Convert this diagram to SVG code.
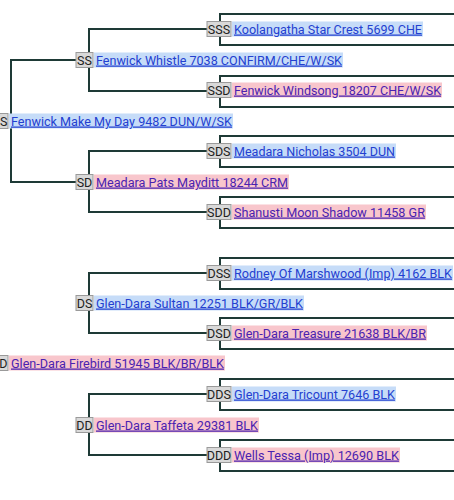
<svg xmlns="http://www.w3.org/2000/svg" width="454" height="500" viewBox="0 0 454 500">
<style>
.ln{fill:none;stroke:#1e3a36;stroke-width:2}
.bx{fill:#d9d9d9;stroke:#9a9a9a;stroke-width:1}
.bt{font-family:Roboto,"Liberation Sans",sans-serif;font-size:12.5px;fill:#222}
.nm{font-family:Roboto,"Liberation Sans",sans-serif;font-size:12.5px;text-decoration:underline}
.s .bg{fill:#c6dcf8}
.d .bg{fill:#f8c6cc}
.s .nm{fill:#2340d0}
.d .nm{fill:#4a22b0}
</style>
<rect width="454" height="500" fill="#fff"/>
<g id="connectors">
<path class="ln" d="M76,60H11V182H76"/>
<path class="ln" d="M207,29H89V91H207"/>
<path class="ln" d="M207,151H89V212H207"/>
<path class="ln" d="M207,273H89V333H207"/>
<path class="ln" d="M207,394H89V455H207"/>
<path class="ln" d="M454,14H220V45H454"/>
<path class="ln" d="M454,76H220V107H454"/>
<path class="ln" d="M454,136H220V167H454"/>
<path class="ln" d="M454,197H220V228H454"/>
<path class="ln" d="M454,258H220V289H454"/>
<path class="ln" d="M454,318H220V349H454"/>
<path class="ln" d="M454,379H220V410H454"/>
<path class="ln" d="M454,440H220V471H454"/>
</g>
<g id="S" class="s"><rect class="bx" x="-8" y="113.5" width="16" height="15"/><text class="bt" x="7.5" y="125.5" text-anchor="end">S</text><rect class="bg" x="9" y="113.5" width="224" height="15"/><text class="nm" x="11" y="125.5" textLength="221" lengthAdjust="spacingAndGlyphs">Fenwick Make My Day 9482 DUN/W/SK</text></g>
<g id="SS" class="s"><rect class="bx" x="76" y="52.5" width="17" height="15"/><text class="bt" x="84.5" y="64.5" text-anchor="middle">SS</text><rect class="bg" x="94" y="52.5" width="249" height="15"/><text class="nm" x="96" y="64.5" textLength="246" lengthAdjust="spacingAndGlyphs">Fenwick Whistle 7038 CONFIRM/CHE/W/SK</text></g>
<g id="SSS" class="s"><rect class="bx" x="207" y="21.5" width="24" height="15"/><text class="bt" x="219" y="33.5" text-anchor="middle">SSS</text><rect class="bg" x="232" y="21.5" width="191" height="15"/><text class="nm" x="234" y="33.5" textLength="188" lengthAdjust="spacingAndGlyphs">Koolangatha Star Crest 5699 CHE</text></g>
<g id="SSD" class="d"><rect class="bx" x="207" y="82.5" width="24" height="15"/><text class="bt" x="219" y="94.5" text-anchor="middle">SSD</text><rect class="bg" x="232" y="82.5" width="210" height="15"/><text class="nm" x="234" y="94.5" textLength="207" lengthAdjust="spacingAndGlyphs">Fenwick Windsong 18207 CHE/W/SK</text></g>
<g id="SD" class="d"><rect class="bx" x="76" y="174.5" width="17" height="15"/><text class="bt" x="84.5" y="186.5" text-anchor="middle">SD</text><rect class="bg" x="94" y="174.5" width="195" height="15"/><text class="nm" x="96" y="186.5" textLength="192" lengthAdjust="spacingAndGlyphs">Meadara Pats Mayditt 18244 CRM</text></g>
<g id="SDS" class="s"><rect class="bx" x="207" y="143.5" width="24" height="15"/><text class="bt" x="219" y="155.5" text-anchor="middle">SDS</text><rect class="bg" x="232" y="143.5" width="164" height="15"/><text class="nm" x="234" y="155.5" textLength="161" lengthAdjust="spacingAndGlyphs">Meadara Nicholas 3504 DUN</text></g>
<g id="SDD" class="d"><rect class="bx" x="207" y="204.5" width="24" height="15"/><text class="bt" x="219" y="216.5" text-anchor="middle">SDD</text><rect class="bg" x="232" y="204.5" width="194" height="15"/><text class="nm" x="234" y="216.5" textLength="191" lengthAdjust="spacingAndGlyphs">Shanusti Moon Shadow 11458 GR</text></g>
<g id="D" class="d"><rect class="bx" x="-8" y="355.5" width="16" height="15"/><text class="bt" x="7.5" y="367.5" text-anchor="end">D</text><rect class="bg" x="9" y="355.5" width="216" height="15"/><text class="nm" x="11" y="367.5" textLength="213" lengthAdjust="spacingAndGlyphs">Glen-Dara Firebird 51945 BLK/BR/BLK</text></g>
<g id="DS" class="s"><rect class="bx" x="76" y="295.5" width="17" height="15"/><text class="bt" x="84.5" y="307.5" text-anchor="middle">DS</text><rect class="bg" x="94" y="295.5" width="210" height="15"/><text class="nm" x="96" y="307.5" textLength="207" lengthAdjust="spacingAndGlyphs">Glen-Dara Sultan 12251 BLK/GR/BLK</text></g>
<g id="DSS" class="s"><rect class="bx" x="207" y="265.5" width="24" height="15"/><text class="bt" x="219" y="277.5" text-anchor="middle">DSS</text><rect class="bg" x="232" y="265.5" width="221" height="15"/><text class="nm" x="234" y="277.5" textLength="218" lengthAdjust="spacingAndGlyphs">Rodney Of Marshwood (Imp) 4162 BLK</text></g>
<g id="DSD" class="d"><rect class="bx" x="207" y="325.5" width="24" height="15"/><text class="bt" x="219" y="337.5" text-anchor="middle">DSD</text><rect class="bg" x="232" y="325.5" width="195" height="15"/><text class="nm" x="234" y="337.5" textLength="192" lengthAdjust="spacingAndGlyphs">Glen-Dara Treasure 21638 BLK/BR</text></g>
<g id="DD" class="d"><rect class="bx" x="76" y="417.5" width="17" height="15"/><text class="bt" x="84.5" y="429.5" text-anchor="middle">DD</text><rect class="bg" x="94" y="417.5" width="165" height="15"/><text class="nm" x="96" y="429.5" textLength="162" lengthAdjust="spacingAndGlyphs">Glen-Dara Taffeta 29381 BLK</text></g>
<g id="DDS" class="s"><rect class="bx" x="207" y="386.5" width="24" height="15"/><text class="bt" x="219" y="398.5" text-anchor="middle">DDS</text><rect class="bg" x="232" y="386.5" width="164" height="15"/><text class="nm" x="234" y="398.5" textLength="161" lengthAdjust="spacingAndGlyphs">Glen-Dara Tricount 7646 BLK</text></g>
<g id="DDD" class="d"><rect class="bx" x="207" y="447.5" width="24" height="15"/><text class="bt" x="219" y="459.5" text-anchor="middle">DDD</text><rect class="bg" x="232" y="447.5" width="168" height="15"/><text class="nm" x="234" y="459.5" textLength="165" lengthAdjust="spacingAndGlyphs">Wells Tessa (Imp) 12690 BLK</text></g>
</svg>
